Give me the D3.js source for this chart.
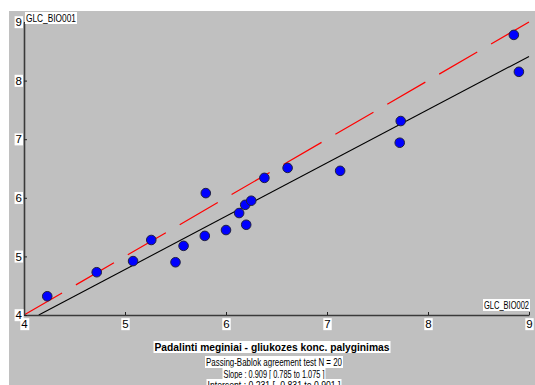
<!DOCTYPE html>
<html>
<head>
<meta charset="utf-8">
<script src="https://cdn.jsdelivr.net/npm/d3@7"></script>
<style>
  body { margin: 0; background: #fff; }
  text { font-family: "Liberation Sans", Arial, sans-serif; }
</style>
</head>
<body>
<div id="chart"></div>
<script>
// data
const bio002 = [4.23, 4.72, 5.08, 5.26, 5.50, 5.58, 5.79, 5.80, 6.00, 6.13, 6.20, 6.19, 6.25, 6.38, 6.61, 7.13, 7.72, 7.73, 8.85, 8.90];
const bio001 = [4.32, 4.73, 4.92, 5.28, 4.90, 5.18, 5.35, 6.08, 5.45, 5.74, 5.54, 5.88, 5.95, 6.34, 6.51, 6.46, 6.94, 7.31, 8.78, 8.15];
const tickValues = [4, 5, 6, 7, 8, 9];
const slope = 0.909;
const intercept = 0.231;
const statLines = [
  'Passing-Bablok agreement test N = 20',
  'Slope : 0.909 [ 0.785 to 1.075 ]',
  'Intercept : 0.231 [ -0.831 to 0.901 ]'
];
const statWidths = [136, 101, 133];

const width = 535, height = 385;
const svg = d3.select('#chart').append('svg').attr('width', width).attr('height', height);

svg.append('rect').attr('x', 9).attr('y', 11).attr('width', width - 9).attr('height', height - 11).attr('fill', '#c0c0c0');

const x = d3.scaleLinear().domain([4, 9]).range([24, 529]);
const y = d3.scaleLinear().domain([4, 9]).range([315, 22]);

// put a white box behind a text node
function boxText(sel) {
  sel.each(function () {
    const b = this.getBBox();
    d3.select(this.parentNode).insert('rect', () => this)
      .attr('x', b.x - 1).attr('y', b.y)
      .attr('width', b.width + 2).attr('height', b.height)
      .attr('fill', 'white');
  });
}

// reference line y = x (dashed red)
svg.append('line')
  .attr('x1', x(4)).attr('y1', y(4)).attr('x2', x(9)).attr('y2', y(9))
  .style('stroke', '#ff0000').style('stroke-width', 1.2)
  .style('stroke-dasharray', '44,16');

// Passing-Bablok fit
const x0 = (4 - intercept) / slope;
svg.append('line')
  .attr('x1', x(x0)).attr('y1', y(4)).attr('x2', x(9)).attr('y2', y(slope * 9 + intercept))
  .style('stroke', 'black').style('stroke-width', 1.1);

// axes
const xAxis = svg.append('g').attr('transform', `translate(0,${y(4)})`)
  .call(d3.axisBottom(x).tickValues(tickValues).tickSize(-3).tickSizeOuter(0).tickPadding(5).tickFormat(d3.format('d')));
const yAxis = svg.append('g').attr('transform', `translate(${x(4)},0)`)
  .call(d3.axisLeft(y).tickValues(tickValues).tickSize(-3).tickSizeOuter(0).tickPadding(2).tickFormat(d3.format('d')));

[xAxis, yAxis].forEach(g => {
  g.select('.domain').style('stroke', '#3a3a3a').style('stroke-width', 1.6);
  g.selectAll('.tick line').style('stroke', '#222');
  g.selectAll('.tick text').style('font-size', '11.5px').style('fill', '#000')
    .style('font-family', '"Liberation Sans", Arial, sans-serif');
  boxText(g.selectAll('.tick text'));
});

// points
svg.append('g').selectAll('circle')
  .data(bio002.map((v, i) => [v, bio001[i]]))
  .enter()
  .append('circle')
  .attr('cx', d => x(d[0]))
  .attr('cy', d => y(d[1]))
  .attr('r', 4.8)
  .style('fill', '#0000ff')
  .style('stroke', '#202040')
  .style('stroke-width', 1);

// axis titles
const t1 = svg.append('text').attr('x', 26).attr('y', 22).text('GLC_BIO001')
  .style('font-size', '11px').attr('textLength', 50).attr('lengthAdjust', 'spacingAndGlyphs');
boxText(t1);
const t2 = svg.append('text').attr('x', 529).attr('y', 309).attr('text-anchor', 'end').text('GLC_BIO002')
  .style('font-size', '11px').attr('textLength', 45).attr('lengthAdjust', 'spacingAndGlyphs');
boxText(t2);

// title and stats
const title = svg.append('text').attr('x', 272).attr('y', 351).attr('text-anchor', 'middle')
  .text('Padalinti meginiai - gliukozes konc. palyginimas')
  .style('font-size', '11.5px').style('font-weight', 'bold')
  .attr('textLength', 235).attr('lengthAdjust', 'spacingAndGlyphs');
boxText(title);

statLines.forEach((s, i) => {
  const t = svg.append('text').attr('x', 274).attr('y', 366 + i * 11.5).attr('text-anchor', 'middle')
    .text(s).style('font-size', '11px')
    .attr('textLength', statWidths[i]).attr('lengthAdjust', 'spacingAndGlyphs');
  boxText(t);
});
</script>
</body>
</html>
